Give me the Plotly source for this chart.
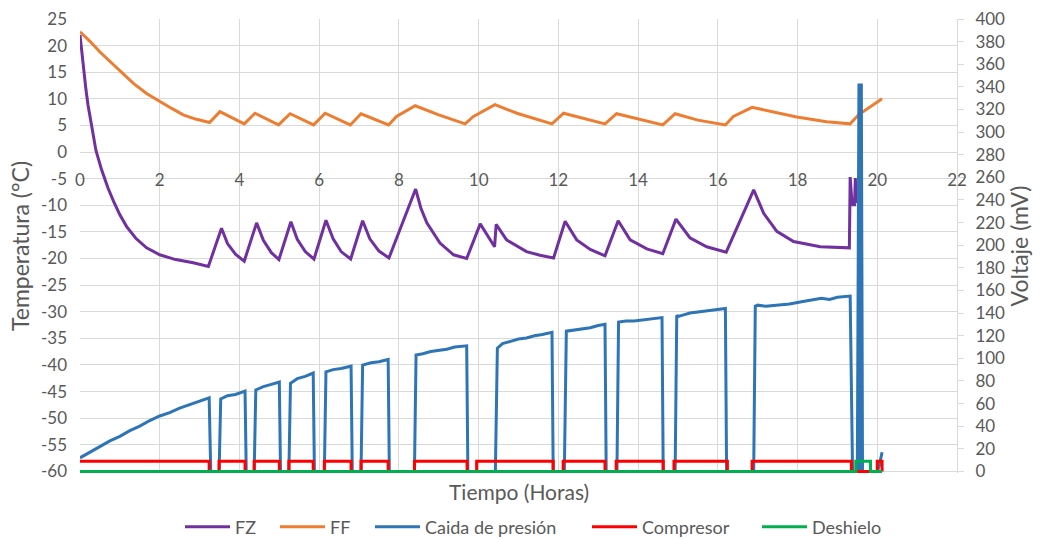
import plotly.graph_objects as go

# ---------------- data ----------------
fz_t = [0, 0.05, 0.1, 0.15, 0.2, 0.3, 0.4, 0.54, 0.7, 0.84, 1.0, 1.17, 1.4, 1.67, 2.0, 2.4, 2.84, 3.22,
        3.55, 3.7, 3.9, 4.12,
        4.43, 4.6, 4.8, 4.99,
        5.29, 5.45, 5.65, 5.87,
        6.17, 6.35, 6.55, 6.79,
        7.09, 7.27, 7.5, 7.75,
        8.42, 8.55, 8.7, 9.03, 9.37, 9.7,
        10.04, 10.4, 10.44, 10.7, 11.2, 11.54, 11.88,
        12.17, 12.46, 12.8, 13.17,
        13.5, 13.8, 14.22, 14.62,
        14.95, 15.3, 15.72, 16.21,
        16.9, 17.15, 17.48, 17.9, 18.57, 19.3,
        19.32, 19.37, 19.43, 19.45, 19.47]
fz_v = [22, 18.2, 14.8, 11.7, 8.9, 4.2, 0.3, -3.3, -6.7, -9.2, -11.8, -14, -16.2, -18, -19.3, -20.2, -20.8, -21.5,
        -14.3, -17.2, -19.2, -20.5,
        -13.3, -16.6, -18.9, -20.2,
        -13.1, -16.4, -18.7, -20.1,
        -12.8, -16.3, -18.7, -20.1,
        -12.9, -16.3, -18.6, -19.9,
        -6.95, -10.5, -13.3, -17.1, -19.3, -20.0,
        -13.5, -17.8, -13.6, -16.5, -18.7, -19.4, -19.9,
        -13.0, -16.5, -18.3, -19.5,
        -12.9, -16.5, -18.2, -19.1,
        -12.6, -16.1, -17.8, -18.8,
        -7.1, -11.5, -14.9, -16.8, -17.8, -18.0,
        -4.7, -9.9, -9.9, -4.9, -9.6]

ff_t = [0, 0.25, 0.5, 0.75, 1.0, 1.34, 1.67, 2.0, 2.3, 2.59, 2.9, 3.25,
        3.51, 4.12, 4.39, 4.98, 5.27, 5.86, 6.15, 6.78, 7.05, 7.74,
        7.94, 8.41, 9.0, 9.66, 9.87, 10.41, 10.96, 11.84, 12.13, 13.17, 13.46, 14.62,
        14.93, 15.5, 16.19, 16.39, 16.86, 17.98, 18.73, 19.32, 19.53, 20.12]
ff_v = [22.6, 20.8, 18.8, 17.0, 15.2, 12.9, 11.0, 9.5, 8.2, 7.0, 6.2, 5.55,
        7.6, 5.3, 7.3, 5.1, 7.2, 5.1, 7.3, 5.1, 7.2, 5.1,
        6.7, 8.7, 7.0, 5.3, 6.7, 8.9, 7.3, 5.3, 7.3, 5.3, 7.2, 5.1,
        7.2, 6.0, 5.1, 6.7, 8.4, 6.6, 5.7, 5.3, 7.0, 10.0]

dp_t = [0, 0.25, 0.5, 0.75, 1.0, 1.25, 1.5, 1.75, 2.0, 2.25, 2.5, 2.75, 3.0, 3.24, 3.28,
        3.49, 3.53, 3.7, 3.9, 4.1, 4.14, 4.17,
        4.37, 4.41, 4.6, 4.8, 5.0, 5.03,
        5.24, 5.28, 5.45, 5.65, 5.85, 5.88,
        6.13, 6.17, 6.35, 6.55, 6.8, 6.83,
        7.05, 7.09, 7.3, 7.5, 7.73, 7.76,
        8.39, 8.43, 8.6, 8.8, 9.0, 9.2, 9.4, 9.7, 9.73,
        10.42, 10.47, 10.6, 10.8, 11.0, 11.2, 11.4, 11.6, 11.84, 11.87,
        12.15, 12.2, 12.4, 12.6, 12.8, 13.0, 13.17, 13.2,
        13.47, 13.51, 13.7, 13.9, 14.1, 14.3, 14.6, 14.63,
        14.93, 14.97, 15.0, 15.1, 15.3, 15.5, 15.7, 15.9, 16.19, 16.22,
        16.9, 16.94, 17.0, 17.2, 17.5, 17.8, 18.1, 18.4, 18.6, 18.8, 19.0, 19.32, 19.38,
        19.5, 19.54, 19.57, 19.6, 19.63,
        20.0, 20.05, 20.12]
dp_v = [12, 17, 22, 27, 31, 36, 40, 45, 49, 52, 56, 59, 62, 65, 0,
        0, 64, 67, 68, 71, 71, 0,
        0, 72, 75, 77, 79, 0,
        0, 78, 82, 84, 87, 0,
        0, 88, 90, 91, 93, 0,
        0, 94, 96, 97, 99, 0,
        0, 103, 104, 106, 107, 108, 110, 111, 0,
        0, 109, 113, 115, 117, 118, 120, 121, 123, 0,
        0, 124, 125, 126, 127, 129, 130, 0,
        0, 132, 133, 133, 134, 135, 136, 0,
        0, 138, 137, 138, 140, 141, 142, 143, 144, 0,
        0, 146, 147, 146, 147, 148, 150, 152, 153, 152, 154, 155, 0,
        0, 343, 0, 343, 0,
        0, 5, 17]

comp_on = [0, 3.49, 4.37, 5.24, 6.13, 7.05, 8.39, 9.95, 12.12, 13.45, 14.9, 16.86, 20.0]
comp_off = [3.24, 4.14, 5.0, 5.85, 6.8, 7.73, 9.71, 11.87, 13.17, 14.63, 16.24, 19.35, 20.12]
comp_level = 9

desh_on = [19.46]
desh_off = [19.83]
desh_level = 9
t_end = 20.12

x_ticks = list(range(0, 23, 2))
left_ticks = list(range(-60, 26, 5))
right_ticks = list(range(0, 401, 20))

series_names = ["FZ", "FF", "Caida de presión", "Compresor", "Deshielo"]
series_colors = ["#7030a0", "#ed7d31", "#2e75b6", "#ff0000", "#00b050"]


def steps(ons, offs, level, end):
    xs, ys = [], []
    for a, b in zip(ons, offs):
        if xs:
            xs.append(a); ys.append(0)
        elif a > 0:
            xs += [0, a]; ys += [0, 0]
        xs += [a, b]; ys += [level, level]
        xs.append(b); ys.append(0)
    if xs[-1] < end:
        xs.append(end); ys.append(0)
    return xs, ys


cx, cy = steps(comp_on, comp_off, comp_level, t_end)
dx, dy = steps(desh_on, desh_off, desh_level, t_end)

FONT = "Lato"
GRAY = "#595959"
GRID = "#d9d9d9"
L, R, T, B = 80, 90, 19, 66
W, H = 1047, 539
PW = W - L - R
PH = H - T - B

# small padding below the zero/-60 baseline so the bottom lines are not half clipped
y_lo, y_hi = -60.3, 25
y2_lo, y2_hi = -1.4, 400
x_label_pos = (0 - y_lo) / (y_hi - y_lo)

data = [(fz_t, fz_v, "y"), (ff_t, ff_v, "y"), (dp_t, dp_v, "y2"), (cx, cy, "y2"), (dx, dy, "y2")]
legend_px = [180, 275, 370, 587, 757]   # left edge of each legend entry (px)

fig = go.Figure()
legends = {}
for i, ((xs, ys, yax), name, col) in enumerate(zip(data, series_names, series_colors)):
    lg = "legend" if i == 0 else f"legend{i + 1}"
    fig.add_trace(go.Scatter(x=xs, y=ys, name=name, mode="lines", yaxis=yax,
                             legend=lg, line=dict(color=col, width=3)))
    legends[lg] = dict(orientation="h", x=(legend_px[i] - L) / PW, xanchor="left",
                       y=(T + PH - 527) / PH, yanchor="middle",
                       font=dict(size=18, color=GRAY), bgcolor="rgba(0,0,0,0)",
                       itemwidth=45, borderwidth=0)

fig.update_layout(
    width=W, height=H,
    margin=dict(l=L, r=R, t=T, b=B, autoexpand=False),
    paper_bgcolor="white", plot_bgcolor="white",
    font=dict(family=FONT, color=GRAY, size=17),
    xaxis=dict(range=[0, 22], tickvals=x_ticks, ticktext=[str(v) for v in x_ticks],
               anchor="free", position=x_label_pos, side="bottom",
               showgrid=True, gridcolor=GRID, gridwidth=1, zeroline=False,
               showline=False, ticks="", ticklabelstandoff=16, automargin=False,
               tickfont=dict(size=17, color=GRAY)),
    yaxis=dict(range=[y_lo, y_hi], tickvals=left_ticks, ticktext=[str(v) for v in left_ticks],
               showgrid=True, gridcolor=GRID,
               zeroline=False, showline=False, ticks="", ticklabelstandoff=12, automargin=False,
               tickfont=dict(size=17, color=GRAY),
               title=dict(text="Temperatura (°C)", font=dict(size=23, color=GRAY), standoff=4)),
    yaxis2=dict(range=[y2_lo, y2_hi], tickvals=right_ticks, overlaying="y", side="right",
                showgrid=False, zeroline=False, showline=True, linecolor=GRID, linewidth=1,
                ticks="outside", ticklen=6, tickcolor=GRID, ticklabelstandoff=8, automargin=False,
                tickfont=dict(size=17, color=GRAY),
                title=dict(text="Voltaje (mV)", font=dict(size=23, color=GRAY), standoff=6)),
    annotations=[dict(text="Tiempo (Horas)", xref="paper", yref="paper", x=0.5, y=-0.04,
                      xanchor="center", yanchor="middle", showarrow=False,
                      font=dict(size=21, color=GRAY, family=FONT))],
    showlegend=True,
    **legends,
)

fig.write_html("out.html")
